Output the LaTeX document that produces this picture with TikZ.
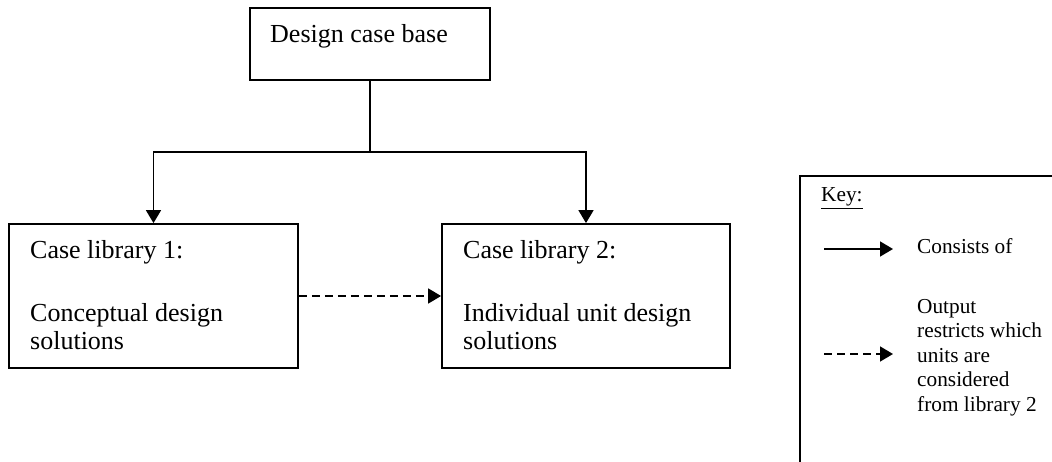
\documentclass[tikz,border=0pt]{standalone}
\usepackage{fontspec}
\setmainfont{Liberation Serif}
\usetikzlibrary{arrows.meta}
\begin{document}
\begin{tikzpicture}[x=1pt,y=-1pt,
  box/.style={draw,line width=1.8pt,rectangle,inner sep=0pt},
  txt/.style={anchor=base west,inner sep=0pt,font=\fontsize{26}{28}\selectfont},
  keytxt/.style={anchor=base west,inner sep=0pt,font=\fontsize{21.3}{24}\selectfont},
  wire/.style={line width=1.7pt},
  link/.style={wire,-{Triangle[length=13pt,width=15pt]}},
  restrict/.style={link,dash pattern=on 8pt off 5pt}]
\useasboundingbox (0,0) rectangle (1052,462);
\clip (0,0) rectangle (1052,462);

% boxes
\node[box,minimum width=240pt,minimum height=72pt] (base) at (370,44) {};
\node[box,minimum width=289pt,minimum height=144pt] (lib1) at (153.5,296) {};
\node[box,minimum width=288pt,minimum height=144pt] (lib2) at (586,296) {};
\node[box,minimum width=270pt,minimum height=304pt] (key) at (935,328) {};

% box texts
\node[txt] (tbase) at (270,43) {Design case base};
\node[txt] (tlib1a) at (30,259) {Case library 1:};
\node[txt] (tlib1b) at (30,321) {Conceptual design};
\node[txt] (tlib1c) at (30,349) {solutions};
\node[txt] (tlib2a) at (463,259) {Case library 2:};
\node[txt] (tlib2b) at (463,321) {Individual unit design};
\node[txt] (tlib2c) at (463,349) {solutions};

% hierarchy connectors
\coordinate (split) at (370,152);
\draw[wire] (base.south) -- (split);
\draw[link] (split) -| (lib1.north);
\draw[link] (split) -| (lib2.north);
\draw[restrict] (lib1.east) -- (lib2.west);

% key
\node[keytxt] (keyhead) at (821,202) {\underline{Key:}};
\coordinate (ks1) at (824,249);
\coordinate (ke1) at (893,249);
\draw[link] (ks1) -- (ke1);
\node[keytxt] (kconsists) at (917,254) {Consists of};
\coordinate (ks2) at (824,354);
\coordinate (ke2) at (893,354);
\draw[restrict] (ks2) -- (ke2);
\node[keytxt] (kout1) at (917,313) {Output};
\node[keytxt] (kout2) at (917,337.5) {restricts which};
\node[keytxt] (kout3) at (917,362) {units are};
\node[keytxt] (kout4) at (917,386.5) {considered};
\node[keytxt] (kout5) at (917,411) {from library 2};
\end{tikzpicture}
\end{document}
